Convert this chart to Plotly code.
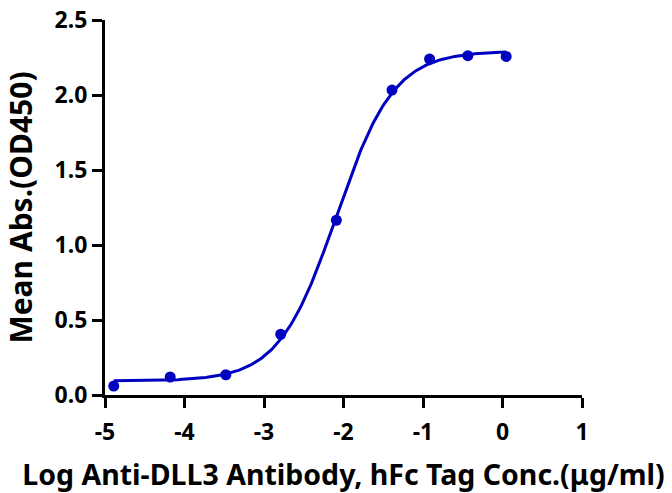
import numpy as np
import plotly.graph_objects as go

# Data
log_conc = [-4.89, -4.18, -3.48, -2.79, -2.09, -1.39, -0.917, -0.436, 0.046]
mean_abs = [0.06, 0.12, 0.135, 0.405, 1.165, 2.033, 2.24, 2.262, 2.257]

x_ticks = [-5, -4, -3, -2, -1, 0, 1]
y_ticks = [0.0, 0.5, 1.0, 1.5, 2.0, 2.5]
y_tick_text = ["0.0", "0.5", "1.0", "1.5", "2.0", "2.5"]

x_title = "Log Anti-DLL3 Antibody, hFc Tag Conc.(μg/ml)"
y_title = "Mean Abs.(OD450)"

BLUE = "#0000C0"

# 4-parameter logistic fit of the data (like the original software's curve)
xd = np.array(log_conc)
yd = np.array(mean_abs)


def f4(p, x):
    bottom, top, logec50, hill = p
    return bottom + (top - bottom) / (1 + 10 ** ((logec50 - x) * hill))


p = np.array([0.09, 2.28, -2.1, 1.2])
lam = 1e-3
for _ in range(300):
    r = yd - f4(p, xd)
    J = np.zeros((len(xd), 4))
    for k in range(4):
        dp = np.zeros(4)
        dp[k] = 1e-6
        J[:, k] = (f4(p + dp, xd) - f4(p - dp, xd)) / 2e-6
    A = J.T @ J
    g = J.T @ r
    step = np.linalg.solve(A + lam * np.diag(np.diag(A)), g)
    pn = p + step
    if np.sum((yd - f4(pn, xd)) ** 2) < np.sum(r ** 2):
        p = pn
        lam *= 0.5
    else:
        lam *= 4

xc = np.linspace(xd.min(), xd.max(), 300)
yc = f4(p, xc)

fig = go.Figure()
fig.add_trace(go.Scatter(x=xc, y=yc, mode="lines",
                         line=dict(color=BLUE, width=3), hoverinfo="skip",
                         showlegend=False))
fig.add_trace(go.Scatter(x=log_conc, y=mean_abs, mode="markers",
                         marker=dict(color=BLUE, size=11), showlegend=False))

axis_font = dict(family="Noto Sans", size=23, color="black", weight="bold")
fig.update_layout(
    width=672, height=493,
    margin=dict(l=105, r=90, t=20, b=98),
    paper_bgcolor="white", plot_bgcolor="white",
    font=dict(family="Noto Sans", color="black"),
    xaxis=dict(range=[-5, 1], tickvals=x_ticks, ticktext=[str(v) for v in x_ticks],
               showline=True, linecolor="black", linewidth=3,
               ticks="outside", ticklen=10, tickwidth=3, tickcolor="black",
               showgrid=False, zeroline=False, tickfont=axis_font,
               ticklabelstandoff=4, automargin=False, ticklabeloverflow="allow",
               title=dict(text=x_title,
                          font=dict(family="Noto Sans", size=28.5, color="black",
                                    weight="bold"),
                          standoff=20)),
    yaxis=dict(range=[0, 2.5], tickvals=y_ticks, ticktext=y_tick_text,
               showline=True, linecolor="black", linewidth=3,
               ticks="outside", ticklen=10, tickwidth=3, tickcolor="black",
               showgrid=False, zeroline=False, tickfont=axis_font,
               automargin=False, ticklabeloverflow="allow",
               title=dict(text=y_title,
                          font=dict(family="Noto Sans", size=30, color="black",
                                    weight="bold"),
                          standoff=23)),
)

fig.write_html("out.html",
               config={"displayModeBar": False},
               post_script="document.body.style.margin='0';")
